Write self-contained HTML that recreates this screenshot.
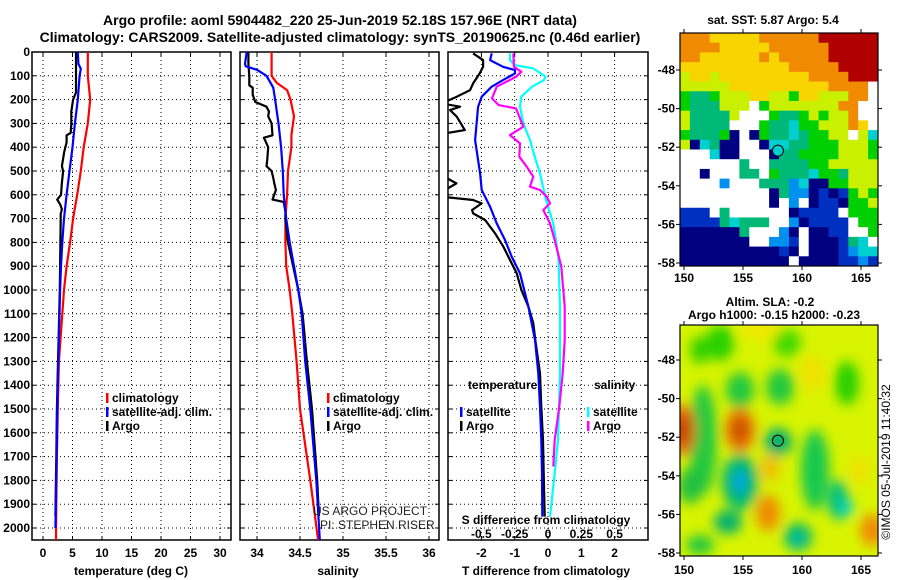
<!DOCTYPE html>
<html><head><meta charset="utf-8"><style>
body{margin:0;background:#fff;}
svg{display:block;font-family:"Liberation Sans",sans-serif;font-weight:bold;}
</style></head><body>
<svg id="c" width="900" height="580" viewBox="0 0 900 580">
<defs>
<clipPath id="cp1"><rect x="32" y="52" width="199" height="488"/></clipPath>
<clipPath id="cp2"><rect x="240" y="52" width="199" height="488"/></clipPath>
<clipPath id="cp3"><rect x="448" y="52" width="200" height="488"/></clipPath>
<clipPath id="cpm2"><rect x="680" y="325" width="198" height="231"/></clipPath>
<filter id="bl" x="-50%" y="-50%" width="200%" height="200%"><feGaussianBlur stdDeviation="6"/></filter>
</defs>
<text x="340" y="25" text-anchor="middle" font-size="14">Argo profile: aoml 5904482_220 25-Jun-2019 52.18S 157.96E (NRT data)</text>
<text x="340" y="42" text-anchor="middle" font-size="14">Climatology: CARS2009. Satellite-adjusted climatology: synTS_20190625.nc (0.46d earlier)</text>
<g id="g"></g>
</svg>
<script>
// ---- data (depth in m) ----
const tClimDepth=[0,100,200,300,400,500,600,700,800,900,1000,1100,1300,1500,1700,1900,2050];
const tClim=[7.6,7.6,8.0,7.6,6.9,6.4,5.8,5.1,4.6,4.0,3.56,3.27,2.7,2.5,2.35,2.25,2.2];
const tSatDepth=[0,50,70,100,200,300,400,500,600,700,800,900,1000,1100,1300,1500,1700,2000];
const tSat=[5.9,6.0,6.4,6.2,5.9,5.4,5.0,4.5,4.0,3.56,3.27,3.05,2.9,2.8,2.6,2.4,2.3,2.1];
const tArgoDepth=[0,100,170,200,250,300,340,350,380,420,480,500,550,600,620,640,660,680,700,800,900,1000,1100,1300,1500,1700,1950];
const tArgo=[5.6,5.6,5.6,5.1,4.8,4.8,4.7,4.0,4.0,3.6,3.2,3.4,3.2,3.05,2.4,2.9,3.2,3.0,3.0,2.95,2.9,2.85,2.75,2.55,2.35,2.25,2.1];
const sClimDepth=[0,100,130,160,200,270,350,400,500,600,700,750,800,900,1000,1100,1300,1500,1800,2050];
const sClim=[34.17,34.17,34.23,34.35,34.39,34.43,34.40,34.40,34.36,34.35,34.33,34.33,34.33,34.34,34.38,34.41,34.46,34.5,34.62,34.71];
const sSatDepth=[0,50,60,75,100,150,200,300,400,500,600,700,800,900,1000,1100,1300,1500,1800,2050];
const sSat=[33.88,33.86,33.87,34.0,34.11,34.19,34.21,34.25,34.28,34.30,34.31,34.34,34.38,34.43,34.48,34.52,34.56,34.62,34.69,34.73];
const sArgoDepth=[0,50,100,140,150,180,210,230,250,270,300,350,360,400,450,480,500,530,550,580,620,630,670,700,800,900,1000,1100,1300,1500,1800,1950];
const sArgo=[33.90,33.90,33.91,33.91,33.95,33.95,33.98,34.11,34.14,34.13,34.17,34.18,34.08,34.13,34.12,34.11,34.17,34.19,34.2,34.22,34.18,34.31,34.33,34.33,34.36,34.42,34.48,34.53,34.58,34.64,34.7,34.72];
const dTSatDepth=[6,34,62,76,90,118,146,188,230,370,510,580,650,720,790,860,930,1070,1210,1350,1490,1630,1770,1952];
const dTSat=[-1.69,-1.74,-1.35,-0.99,-0.99,-1.35,-1.69,-1.99,-2.1,-2.19,-2.04,-1.99,-1.74,-1.54,-1.29,-1.09,-0.84,-0.59,-0.39,-0.29,-0.24,-0.2,-0.18,-0.17];
const dTArgoDepth=[6,34,62,90,132,160,188,216,230,244,272,328,342,356,510,552,580,608,622,636,664,678,706,762,818,874,930,1000,1070,1140,1210,1350,1490,1630,1770,1952];
const dTArgo=[-2.25,-1.95,-1.95,-2.05,-2.25,-2.34,-2.74,-3.2,-2.64,-2.94,-2.74,-2.5,-3.1,-3.3,-3.3,-2.75,-3.1,-3.2,-2.25,-1.99,-2.28,-2.25,-1.89,-1.59,-1.34,-1.14,-0.94,-0.8,-0.59,-0.44,-0.38,-0.24,-0.2,-0.15,-0.13,-0.1];
const dSSatDepth=[6,34,55,69,103,118,146,188,230,300,370,440,510,622,720,860,1070,1350,1630,1770,1952];
const dSSat=[-0.285,-0.285,-0.25,-0.11,-0.02,-0.03,-0.12,-0.2,-0.21,-0.185,-0.135,-0.1,-0.06,-0.015,0.04,0.078,0.09,0.09,0.075,0.05,0.015];
const dSArgoDepth=[6,62,83,104,146,195,223,237,314,349,384,440,482,524,566,580,608,636,664,720,790,902,1070,1210,1350,1490,1630,1742];
const dSArgo=[-0.26,-0.255,-0.2,-0.24,-0.385,-0.42,-0.37,-0.24,-0.185,-0.285,-0.21,-0.215,-0.16,-0.11,-0.135,-0.06,-0.01,0.015,-0.035,0.015,0.05,0.1,0.125,0.125,0.11,0.085,0.05,0.04];
const depthTicks=[0,100,200,300,400,500,600,700,800,900,1000,1100,1200,1300,1400,1500,1600,1700,1800,1900,2000];
const tTicks=[0,5,10,15,20,25,30];
const sTicks=[34,34.5,35,35.5,36];
const dTTicks=[-2,-1,0,1,2];
const dSTicks=[-0.5,-0.25,0,0.25,0.5];
const dSTickLabels=["-0.5","-0.25","0","0.25","0.5"];

// ---- axes ----
const yD=d=>52+d*0.238;
const xT=t=>43+t*5.9;
const xS=s=>257+(s-34)*86;
const xDT=v=>548+v*33.3;
const xDS=v=>548+v*133.3;

const NS="http://www.w3.org/2000/svg";
const g=document.getElementById('g');
function el(tag,attrs,parent){const e=document.createElementNS(NS,tag);for(const k in attrs)e.setAttribute(k,attrs[k]);(parent||g).appendChild(e);return e;}
function txt(x,y,s,size,anchor){const t=el('text',{x:x,y:y,'font-size':size||12,'text-anchor':anchor||'middle'});t.textContent=s;return t;}

function panel(x0,x1,name,xticks,xf,clip){
  const grp=el('g',{});
  
  
  depthTicks.forEach(d=>{const l=el('line',{x1:x0,x2:x1,y1:yD(d),y2:yD(d),stroke:'#000','stroke-dasharray':'1,3','stroke-width':1},grp);
    el('line',{x1:x0,x2:x0+4,y1:yD(d),y2:yD(d),stroke:'#000'},grp);el('line',{x1:x1-4,x2:x1,y1:yD(d),y2:yD(d),stroke:'#000'},grp);});
  xticks.forEach(v=>{el('line',{x1:xf(v),x2:xf(v),y1:52,y2:540,stroke:'#000','stroke-dasharray':'1,3'},grp);
    el('line',{x1:xf(v),x2:xf(v),y1:540,y2:536,stroke:'#000'},grp);el('line',{x1:xf(v),x2:xf(v),y1:52,y2:56,stroke:'#000'},grp);});
  el('rect',{x:x0,y:52,width:x1-x0,height:488,fill:'none',stroke:'#000','stroke-width':1.5},grp);
  const lg=el('g',{'clip-path':'url(#'+clip+')'},grp);
  return lg;
}
function line(par,xs,ds,xf,color,name){
  const pts=xs.map((v,i)=>xf(v).toFixed(1)+','+yD(ds[i]).toFixed(1)).join(' ');
  const p=el('polyline',{points:pts,fill:'none',stroke:color,'stroke-width':2.2,'stroke-linejoin':'round'},par);
  
  
}
// panel 1
const p1=panel(32,231,'temperature-panel',tTicks,xT,'cp1');
line(p1,tClim,tClimDepth,xT,'#f00','temperature-climatology-line');
line(p1,tArgo,tArgoDepth,xT,'#000','temperature-argo-line');
line(p1,tSat,tSatDepth,xT,'#00f','temperature-satellite-line');
depthTicks.forEach(d=>{const t=txt(30,yD(d)+4,String(d),12,'end');});
tTicks.forEach(v=>{const t=txt(xT(v),557,String(v),12);});
let t1=txt(131,575,'temperature (deg C)',12);
// panel 2
const p2=panel(240,439,'salinity-panel',sTicks,xS,'cp2');
line(p2,sClim,sClimDepth,xS,'#f00','salinity-climatology-line');
line(p2,sArgo,sArgoDepth,xS,'#000','salinity-argo-line');
line(p2,sSat,sSatDepth,xS,'#00f','salinity-satellite-line');
sTicks.forEach(v=>{const t=txt(xS(v),557,String(v),12);});
let t2=txt(338,575,'salinity',12);
// panel 3
const p3=panel(448,648,'difference-panel',dTTicks,xDT,'cp3');
line(p3,dTArgo,dTArgoDepth,xDT,'#000','dt-argo-line');
line(p3,dTSat,dTSatDepth,xDT,'#00f','dt-satellite-line');
line(p3,dSSat,dSSatDepth,xDS,'#0ff','ds-satellite-line');
line(p3,dSArgo,dSArgoDepth,xDS,'#f0f','ds-argo-line');
dTTicks.forEach(v=>{const t=txt(xDT(v),557,String(v),12);});
dSTicks.forEach((v,i)=>{const t=txt(xDS(v),538,dSTickLabels[i],12);});
let t3=txt(546,575,'T difference from climatology',12);
let t4=txt(546,524,'S difference from climatology',12);

// legends
function leg(x,y,color,label,name){
  el('rect',{x:x,y:y-9,width:2.5,height:10,fill:color});
  const t=txt(x+6,y,label,12,'start');
  
  
}
leg(106,402,'#f00','climatology','legend-climatology');
leg(106,416,'#00f','satellite-adj. clim.','legend-satellite');
leg(106,430,'#000','Argo','legend-argo');
leg(327,402,'#f00','climatology','legend-climatology-s');
leg(327,416,'#00f','satellite-adj. clim.','legend-satellite-s');
leg(327,430,'#000','Argo','legend-argo-s');
let lt=txt(468,389,'temperature',12,'start');
leg(460,416,'#00f','satellite','legend-dt-satellite');
leg(460,430,'#000','Argo','legend-dt-argo');
let ls=txt(594,389,'salinity',12,'start');
leg(587,416,'#0ff','satellite','legend-ds-satellite');
leg(587,430,'#f0f','Argo','legend-ds-argo');
let w1=el('text',{x:313,y:515,'font-size':12,'font-weight':'normal',fill:'#222'});w1.textContent='US ARGO PROJECT';
let w2=el('text',{x:320,y:529,'font-size':12,'font-weight':'normal',fill:'#222'});w2.textContent='PI: STEPHEN RISER';

// ---- maps ----
const lonX=l=>684+(l-150)*11.8;
const latY1=a=>70+(-48-a)*19.3;
const latY2=a=>360+(-48-a)*19.3;
const col={R:'#b00000',O:'#f08a00',Y:'#f8d400',L:'#c8f000',G:'#00d000',T:'#00b878',C:'#00d0d0',B:'#0090f0',N:'#000080',M:'#0030c0',W:'#ffffff'};
const sst=["OOOYYYYYOOOOOORRRRRR","OOOOYYYYYOOOOOORRRRR","OOYYYYYYOYOOOOORRRRR","YYYYYYYYYYYOOOOORRRR","LYYLYYYYYYYYYOOOORRR","LLLLLYYYYYYYYYYOOOOW","GTTGLLLYYLLGYYLLLOOW","GTTTLLLWGLLLLLLLOOWW","LTTTTLWWWGTTGLGLLOWW","LTTTTWWWGTTCGGLLLOYW","GTTTGNWNGTTCTGGLLWLC","LNCTNNWWNCCTTGGGLLLG","WWWCNNWWWNTTGGGGLLLG","WWWWWWTWWTTTTGGLLLLL","WWNWWWTTWGTTTCGGTLLL","WWWWBWWWTTTBCNNGGLLL","WWWWWWWWWNTBBNMNMGLG","WWWWWWWWWNWBWNMMNGGL","MMMWTWWWWWWNMMMMWGGG","MMMMTCTTTWWBNMMMMWGG","NNNNNNTWWWBNWNNMMWWG","NNNNNNNWWBBMWNNNMTCW","NNNNNNNNNNMNWNNNMBCC","NNNNNNNNNNNWNNNNMMBM"];
const m1=el('g',{});


const cw=198/20,ch=233/24;
sst.forEach((row,r)=>{for(let c=0;c<row.length;c++){el('rect',{x:(680+c*cw).toFixed(2),y:(33+r*ch).toFixed(2),width:(cw+0.4).toFixed(2),height:(ch+0.4).toFixed(2),fill:col[row[c]]},m1);}});
el('rect',{x:680,y:33,width:198,height:233,fill:'none',stroke:'#000','stroke-width':1.2},m1);
el('circle',{cx:lonX(157.96),cy:latY1(-52.18),r:5.5,fill:'#00d0d0',stroke:'#000','stroke-width':1},m1);

const m2=el('g',{});


el('rect',{x:680,y:325,width:198,height:231,fill:'#d8f400'},m2);
const bg=el('g',{'clip-path':'url(#cpm2)',filter:'url(#bl)'},m2);
const blobs=[[720,343,14,18,'#28d000'],[703,440,14,55,'#20c840'],[740,390,14,18,'#20c840'],[780,387,14,18,'#20c840'],[847,383,12,22,'#28d000'],[787,343,14,14,'#40d800'],[813,373,12,18,'#f0e000'],[760,330,20,10,'#f0e800'],
[683,430,12,26,'#e86000'],[683,430,6,14,'#c03000'],[740,430,15,22,'#e87000'],[740,430,7,10,'#c04000'],[778,442,14,14,'#00b070'],
[740,482,18,28,'#00b870'],[740,482,6,12,'#00a0f0'],[815,470,14,40,'#18c850'],[838,500,10,20,'#00c080'],[847,508,6,8,'#00d8d8'],
[768,513,12,18,'#f08a00'],[770,468,10,14,'#f0c000'],[728,522,14,12,'#00b070'],[798,537,14,14,'#00b870'],[798,540,5,6,'#00c0c0'],
[872,530,12,16,'#f08a00'],[690,486,12,18,'#20c040'],[700,545,14,10,'#20c840'],[860,470,10,14,'#f0e000'],[700,350,10,14,'#30d000']];
blobs.forEach(b=>{el('ellipse',{cx:b[0],cy:b[1],rx:b[2],ry:b[3],fill:b[4]},bg);});
el('rect',{x:680,y:325,width:198,height:231,fill:'none',stroke:'#000','stroke-width':1.2},m2);
el('circle',{cx:lonX(157.96),cy:latY2(-52.18),r:5.5,fill:'none',stroke:'#000','stroke-width':1},m2);

const lats=[-48,-50,-52,-54,-56,-58], lons=[150,155,160,165];
[[latY1,33,266,278],[latY2,325,556,570]].forEach(([lf,top,bot,ly])=>{
  lats.forEach(a=>{const t=txt(675,lf(a)+4,String(a),12,'end');
    el('line',{x1:878,x2:882,y1:lf(a),y2:lf(a),stroke:'#000'});el('line',{x1:676,x2:680,y1:lf(a),y2:lf(a),stroke:'#000'});});
  lons.forEach(l=>{const t=txt(lonX(l),ly+4,String(l),12);
    el('line',{x1:lonX(l),x2:lonX(l),y1:bot,y2:bot+4,stroke:'#000'});el('line',{x1:lonX(l),x2:lonX(l),y1:top-4,y2:top,stroke:'#000'});});
});
let mt1=txt(773,24,'sat. SST: 5.87 Argo: 5.4',12);
let mt2=txt(770,306,'Altim. SLA: -0.2',12);
let mt3=txt(774,319,'Argo h1000: -0.15 h2000: -0.23',12);
let cr=el('text',{x:0,y:0,'font-size':12,'font-weight':'normal','text-anchor':'middle',transform:'translate(890,462) rotate(-90)'});cr.textContent='©IMOS 05-Jul-2019 11:40:32';


</script>
</body></html>
